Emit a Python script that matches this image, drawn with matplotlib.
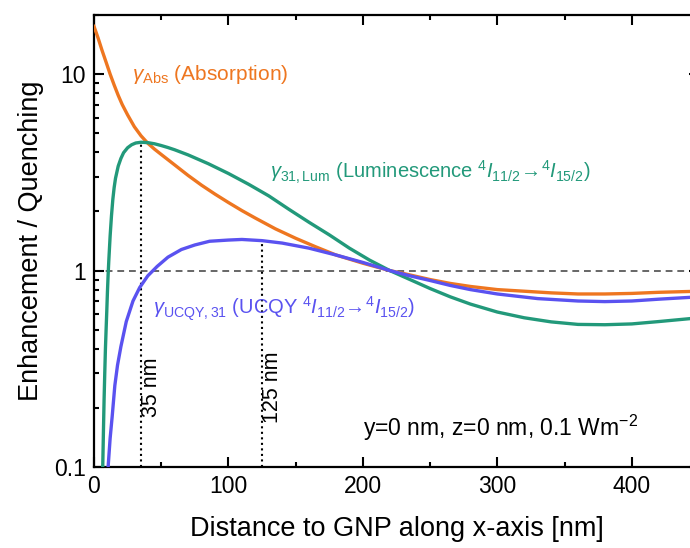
import numpy as np
import matplotlib
matplotlib.use('Agg')
import matplotlib.pyplot as plt
from matplotlib.ticker import FixedLocator, FixedFormatter, LogLocator, NullFormatter, MultipleLocator

plt.rcParams['font.family'] = ['Liberation Sans', 'DejaVu Sans']
plt.rcParams['mathtext.fontset'] = 'custom'
plt.rcParams['mathtext.rm'] = 'Liberation Sans'
plt.rcParams['mathtext.it'] = 'Liberation Sans:italic'
plt.rcParams['mathtext.bf'] = 'Liberation Sans:bold'

# absorption enhancement
x_abs = [0, 3, 6, 9, 12, 15, 18, 21, 25, 30, 35, 40, 45, 50, 60, 70, 80, 90, 100,
         110, 120, 135, 150, 165, 180, 200, 220, 235, 250, 265, 280, 300, 320,
         340, 360, 380, 400, 420, 450]
y_abs = [17.5, 15.3, 13.2, 11.5, 10.0, 8.8, 7.8, 7.0, 6.2, 5.4, 4.85, 4.45, 4.15,
         3.9, 3.45, 3.05, 2.72, 2.45, 2.22, 2.02, 1.85, 1.63, 1.46, 1.32, 1.2,
         1.09, 1.0, 0.95, 0.9, 0.86, 0.83, 0.8, 0.785, 0.77, 0.76, 0.76, 0.765,
         0.775, 0.785]

# luminescence 4I11/2 -> 4I15/2
x_lum = [6.5, 7, 7.5, 8, 8.5, 9, 9.5, 10, 10.5, 11, 12, 13, 14, 15, 16, 18, 20,
         22, 25, 28, 31, 35, 40, 45, 50, 55, 60, 70, 85, 100, 115, 130, 145, 160,
         175, 190, 205, 220, 235, 250, 265, 280, 300, 320, 340, 360, 380, 400,
         420, 450]
y_lum = [0.1, 0.15, 0.22, 0.3, 0.4, 0.5, 0.62, 0.78, 0.95, 1.12, 1.5, 1.9, 2.3,
         2.65, 2.95, 3.4, 3.72, 3.98, 4.22, 4.37, 4.46, 4.5, 4.48, 4.42, 4.33,
         4.23, 4.12, 3.88, 3.5, 3.12, 2.75, 2.4, 2.05, 1.76, 1.52, 1.3, 1.13, 1.0,
         0.9, 0.81, 0.735, 0.675, 0.615, 0.575, 0.548, 0.532, 0.53, 0.535, 0.55,
         0.575]

# UCQY
x_ucqy = [10.5, 12, 13.5, 15.5, 17.5, 20, 24, 29, 34, 40, 47, 55, 65, 75, 86,
          100, 110, 125, 140, 160, 180, 200, 220, 235, 250, 265, 280, 300, 330,
          360, 380, 400, 420, 450]
y_ucqy = [0.1, 0.14, 0.18, 0.26, 0.33, 0.41, 0.55, 0.7, 0.82, 0.94, 1.05, 1.17,
          1.28, 1.35, 1.41, 1.43, 1.44, 1.42, 1.38, 1.3, 1.2, 1.1, 1.0, 0.94,
          0.89, 0.84, 0.8, 0.76, 0.72, 0.70, 0.695, 0.70, 0.715, 0.735]

# marked maxima
peak_x = [35, 125]
peak_y = [4.5, 1.42]
peak_labels = ['35 nm', '125 nm']

c_abs = '#ee7620'
c_lum = '#22997a'
c_ucqy = '#5a52f0'

fig = plt.figure(figsize=(6.9, 5.48), dpi=100)
ax = fig.add_axes([94/690, 81/548, 605/690, 452/548])

ax.axhline(1, color='#666666', lw=1.4, ls=(0, (3.5, 2.5)), zorder=1)
ax.vlines(peak_x, 0.1, peak_y, colors='black', linestyles=':', lw=1.5, zorder=2)

ax.plot(x_abs, y_abs, color=c_abs, lw=2.4, zorder=3)
ax.plot(x_lum, y_lum, color=c_lum, lw=2.4, zorder=3)
ax.plot(x_ucqy, y_ucqy, color=c_ucqy, lw=2.4, zorder=4)

ax.set_yscale('log')
ax.set_xlim(0, 450)
ax.set_ylim(0.1, 20)

ax.xaxis.set_major_locator(MultipleLocator(100))
ax.xaxis.set_minor_locator(MultipleLocator(50))
ax.yaxis.set_major_locator(FixedLocator([0.1, 1, 10]))
ax.yaxis.set_major_formatter(FixedFormatter(['0.1', '1', '10']))
ax.yaxis.set_minor_locator(LogLocator(base=10, subs=np.arange(2, 10)))
ax.yaxis.set_minor_formatter(NullFormatter())

ax.tick_params(which='both', direction='in', top=True, right=True, width=1.5,
               labelsize=16.5, pad=6)
ax.tick_params(which='major', length=7)
ax.tick_params(which='minor', length=3.5)
for s in ax.spines.values():
    s.set_linewidth(1.6)

ax.set_xlabel('Distance to GNP along x-axis [nm]', fontsize=19.5, labelpad=13)
ax.set_ylabel('Enhancement / Quenching', fontsize=19.5, labelpad=7)

ax.text(28, 9.3, r'$\gamma_{\mathrm{Abs}}$ (Absorption)', color=c_abs, fontsize=15)
ax.text(131, 2.95, r'$\gamma_{\mathrm{31,Lum}}$ (Luminescence $^{4}I_{11/2}\!\rightarrow\!^{4}I_{15/2}$)',
        color=c_lum, fontsize=14.5)
ax.text(44, 0.60, r'$\gamma_{\mathrm{UCQY,31}}$ (UCQY $^{4}I_{11/2}\!\rightarrow\!^{4}I_{15/2}$)',
        color=c_ucqy, fontsize=14.5)
for px, lab in zip(peak_x, peak_labels):
    ax.text(px + 8, 0.255, lab, rotation=90, ha='center', va='center', fontsize=15.5)
ax.text(200, 0.144, r'y=0 nm, z=0 nm, 0.1 Wm$^{-2}$', fontsize=16.5)

fig.savefig('out.png', dpi=100)
